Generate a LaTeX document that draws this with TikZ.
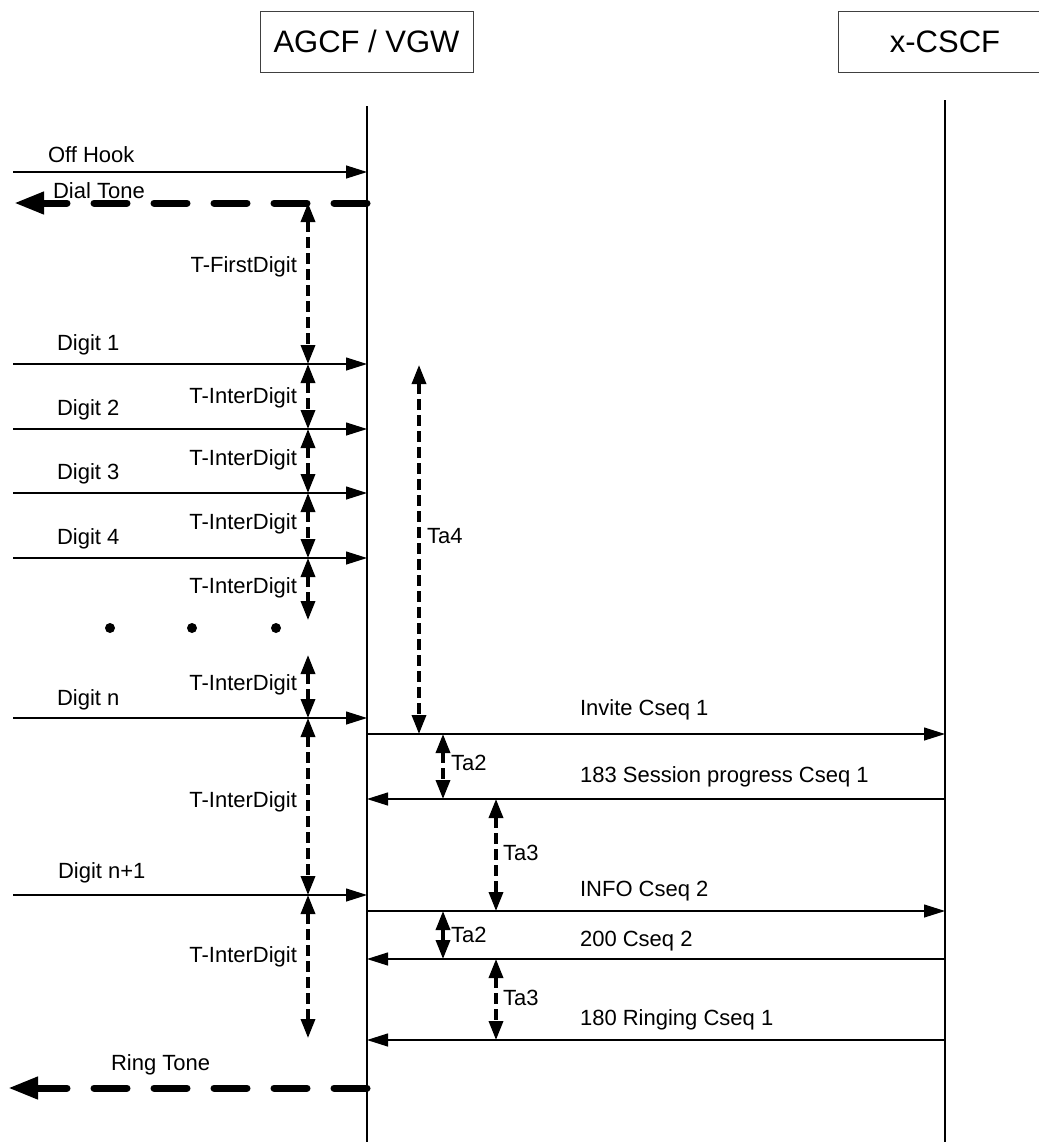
\documentclass[tikz,border=0pt]{standalone}
\usepackage{fontspec}
\setmainfont{Liberation Sans}
\usetikzlibrary{arrows.meta}
\tikzset{
  entity/.style={draw=black!75,line width=0.5pt,minimum width=106.5pt,
    minimum height=30.5pt,inner sep=0pt,font=\fontsize{15.5}{18}\selectfont},
  lifeline/.style={line width=1.2pt,draw=black},
  signal/.style={-{Triangle[length=10.5pt,width=6.5pt]},line width=0.6pt},
  tone/.style={-{Triangle[length=15pt,width=10.5pt]},line width=3.5pt,
    line cap=round,dash pattern=on 16.5pt off 13.5pt},
  timer/.style={{Triangle[length=9.5pt,width=7pt]}-{Triangle[length=9.5pt,width=7pt]},
    line width=1.7pt,dash pattern=on 5.5pt off 2.5pt},
  sigtext/.style={anchor=west,text height=0.72em,text depth=0.2em},
  timertext/.style={anchor=east,text height=0.72em,text depth=0.2em}
}

\begin{document}
\begin{tikzpicture}[x=0.5pt,y=-0.5pt,font=\fontsize{11}{13}\selectfont]
\path[use as bounding box] (0,0) rectangle (1039,1142);

% entities and their lifelines
\node[entity] (agcf) at (366.5,41.5) {AGCF / VGW};
\node[entity] (cscf) at (945,41.5) {x-CSCF};
\coordinate (agcfTop) at (367,106);
\coordinate (agcfEnd) at (367,1142);
\coordinate (cscfTop) at (945,100);
\coordinate (cscfEnd) at (945,1142);
\draw[lifeline] (agcfTop) -- (agcfEnd);
\draw[lifeline] (cscfTop) -- (cscfEnd);

% line side events
\coordinate (offhook) at (13,172);
\coordinate (dialtone) at (14,203);
\coordinate (digit1) at (13,364);
\coordinate (digit2) at (13,429);
\coordinate (digit3) at (13,493);
\coordinate (digit4) at (13,558);
\coordinate (digitn) at (13,718);
\coordinate (digitnn) at (13,895);
\coordinate (ringtone) at (8,1088);
\draw[signal] (offhook) -- (offhook -| agcfTop);
\draw[tone] (dialtone -| agcfTop) -- (dialtone);
\draw[signal] (digit1) -- (digit1 -| agcfTop);
\draw[signal] (digit2) -- (digit2 -| agcfTop);
\draw[signal] (digit3) -- (digit3 -| agcfTop);
\draw[signal] (digit4) -- (digit4 -| agcfTop);
\draw[signal] (digitn) -- (digitn -| agcfTop);
\draw[signal] (digitnn) -- (digitnn -| agcfTop);
\draw[tone] (ringtone -| agcfTop) -- (ringtone);

% SIP side
\coordinate (invite) at (367,734);
\coordinate (sessprog) at (945,799);
\coordinate (info) at (367,911);
\coordinate (okinfo) at (945,959);
\coordinate (ringing) at (945,1040);
\draw[signal] (invite) -- (invite -| cscfTop);
\draw[signal] (sessprog) -- (sessprog -| agcfTop);
\draw[signal] (info) -- (info -| cscfTop);
\draw[signal] (okinfo) -- (okinfo -| agcfTop);
\draw[signal] (ringing) -- (ringing -| agcfTop);

% timers
\coordinate (tdial) at (308,0);
\coordinate (tsip) at (443,0);
\coordinate (tresp) at (496,0);
\coordinate (tgapA) at (308,620);
\coordinate (tgapB) at (308,655);
\coordinate (tgapC) at (308,1038);
\coordinate (ta4start) at (419,365);
\draw[timer] (tdial |- dialtone) -- (tdial |- digit1);
\draw[timer] (tdial |- digit1) -- (tdial |- digit2);
\draw[timer] (tdial |- digit2) -- (tdial |- digit3);
\draw[timer] (tdial |- digit3) -- (tdial |- digit4);
\draw[timer] (tdial |- digit4) -- (tgapA);
\draw[timer] (tgapB) -- (tdial |- digitn);
\draw[timer] (tdial |- digitn) -- (tdial |- digitnn);
\draw[timer] (tdial |- digitnn) -- (tgapC);
\draw[timer] (ta4start) -- (ta4start |- invite);
\draw[timer] (tsip |- invite) -- (tsip |- sessprog);
\draw[timer] (tresp |- sessprog) -- (tresp |- info);
\draw[timer] (tsip |- info) -- (tsip |- okinfo);
\draw[timer] (tresp |- okinfo) -- (tresp |- ringing);

% digits left out
\fill (110,628) circle (2.5pt);
\fill (192,628) circle (2.5pt);
\fill (276,628) circle (2.5pt);

% labels
\node[sigtext] (offhookText) at (41,157) {Off Hook};
\node[sigtext] (dialtoneText) at (46,193) {Dial Tone};
\node[sigtext] (digit1Text) at (50,345) {Digit 1};
\node[sigtext] (digit2Text) at (50,410) {Digit 2};
\node[sigtext] (digit3Text) at (50,474) {Digit 3};
\node[sigtext] (digit4Text) at (50,539) {Digit 4};
\node[sigtext] (digitnText) at (50,700) {Digit n};
\node[sigtext] (digitnnText) at (51,873) {Digit n+1};
\node[sigtext] (ringtoneText) at (104,1065) {Ring Tone};
\node[timertext] (firstText) at (304,267) {T-FirstDigit};
\node[timertext] (interA) at (304,398) {T-InterDigit};
\node[timertext] (interB) at (304,460) {T-InterDigit};
\node[timertext] (interC) at (304,524) {T-InterDigit};
\node[timertext] (interD) at (304,588) {T-InterDigit};
\node[timertext] (interE) at (304,685) {T-InterDigit};
\node[timertext] (interF) at (304,802) {T-InterDigit};
\node[timertext] (interG) at (304,957) {T-InterDigit};
\node[sigtext] (ta4Text) at (420,538) {Ta4};
\node[sigtext] (ta2Text) at (444,765) {Ta2};
\node[sigtext] (ta3Text) at (496,855) {Ta3};
\node[sigtext] (ta2TextB) at (444,937) {Ta2};
\node[sigtext] (ta3TextB) at (496,1000) {Ta3};
\node[sigtext] (inviteText) at (573,710) {Invite Cseq 1};
\node[sigtext] (sessprogText) at (573,777) {183 Session progress Cseq 1};
\node[sigtext] (infoText) at (573,891) {INFO Cseq 2};
\node[sigtext] (okinfoText) at (573,941) {200 Cseq 2};
\node[sigtext] (ringingText) at (573,1020) {180 Ringing Cseq 1};
\end{tikzpicture}
\end{document}
